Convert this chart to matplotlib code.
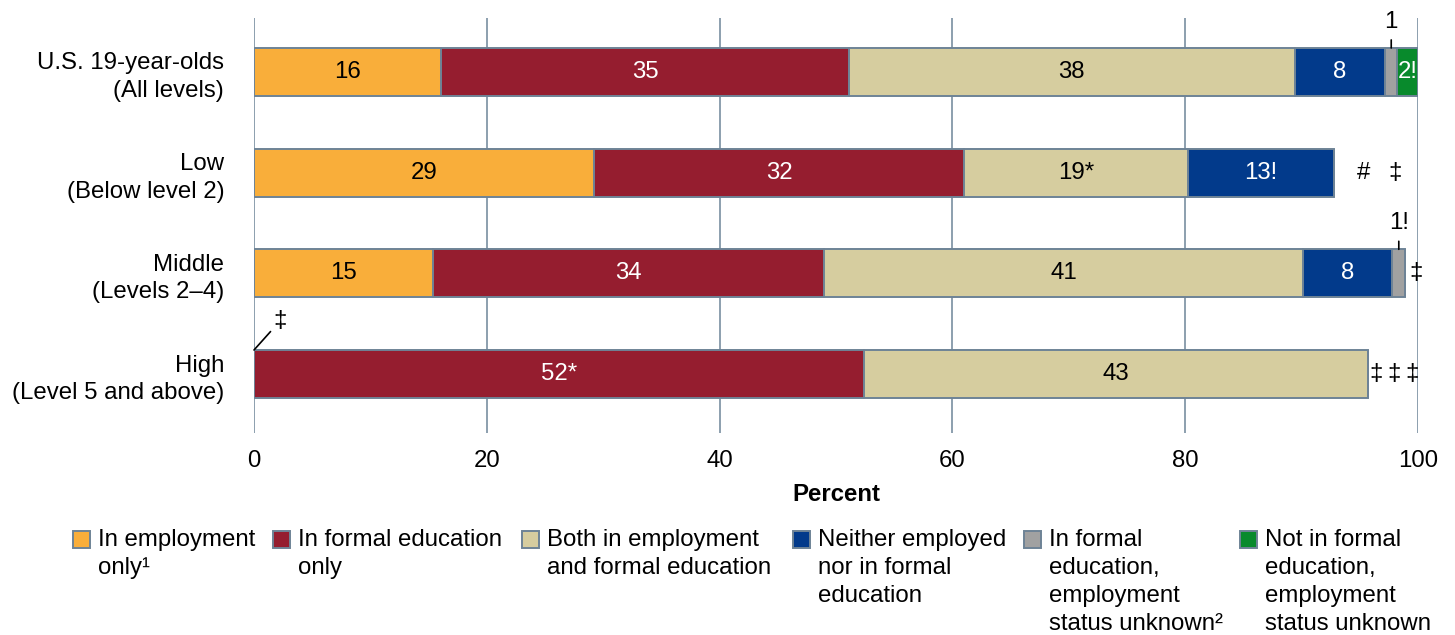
import matplotlib
matplotlib.use("Agg")
import matplotlib.pyplot as plt
from matplotlib.patches import Rectangle
import numpy as np

plt.rcParams['font.family'] = ['Liberation Sans', 'DejaVu Sans']

# ---------------- data ----------------
categories = ["U.S. 19-year-olds\n(All levels)", "Low\n(Below level 2)",
              "Middle\n(Levels 2\u20134)", "High\n(Level 5 and above)"]

series_names = ["In employment\nonly\u00b9", "In formal education\nonly",
                "Both in employment\nand formal education",
                "Neither employed\nnor in formal\neducation",
                "In formal\neducation,\nemployment\nstatus unknown\u00b2",
                "Not in formal\neducation,\nemployment\nstatus unknown"]

emp_only = [16.1, 29.2, 15.4, 0.0]
edu_only = [35.0, 31.8, 33.6, 52.4]
both = [38.3, 19.2, 41.1, 43.3]
neither = [7.8, 12.6, 7.7, 0.0]
edu_unknown = [1.0, 0.0, 1.1, 0.0]
notedu_unknown = [1.8, 0.0, 0.0, 0.0]

emp_labels = ["16", "29", "15", "\u2021"]
edu_labels = ["35", "32", "34", "52*"]
both_labels = ["38", "19*", "41", "43"]
neither_labels = ["8", "13!", "8", "\u2021"]
unk_labels = ["1", "#", "1!", "\u2021"]
notedu_labels = ["2!", "\u2021", "\u2021", "\u2021"]

xticks = [0, 20, 40, 60, 80, 100]

# ---------------- style ----------------
colors = ["#F9AE3A", "#951D2F", "#D6CD9F", "#023A8B", "#A1A1A1", "#088A2C"]
text_colors = ["black", "white", "black", "white", "black", "white"]
edge = "#6E8396"
grid_c = "#8497A8"
FS = 17.3

W, H = 1455, 635
fig = plt.figure(figsize=(W / 100, H / 100), dpi=100)
ax = fig.add_axes([254 / W, 1 - 433 / H, (1418 - 254) / W, (433 - 18) / H])

series = [emp_only, edu_only, both, neither, edu_unknown, notedu_unknown]
labels = [emp_labels, edu_labels, both_labels, neither_labels, unk_labels, notedu_labels]

y = np.arange(len(categories))
for xt in xticks:
    ax.axvline(xt, color=grid_c, lw=1.3, zorder=0)

left = np.zeros(len(categories))
lefts = []
for s, c in zip(series, colors):
    vals = np.array(s)
    ax.barh(y, vals, left=left, height=0.477, color=c, edgecolor=edge,
            linewidth=1.4, zorder=2)
    lefts.append(left.copy())
    left = left + vals
totals = left

bar_h = 0.477
# trailing-label pixel offsets per row (for zero-width segments)
trail_offsets = {1: [29, 61], 2: [11], 3: [8, 26, 44]}
for i in range(len(categories)):
    trail_idx = 0
    for k, (s, lab) in enumerate(zip(series, labels)):
        v = s[i]
        x0 = lefts[k][i]
        if v >= 1.5:
            ax.text(x0 + v / 2, y[i], lab[i], ha='center', va='center',
                    fontsize=FS, color=text_colors[k], zorder=3)
        elif v > 0:
            # small segment: label above with leader line
            ax.annotate(lab[i], xy=(x0 + v / 2, y[i] - bar_h / 2),
                        xytext=(0, 26), textcoords='offset pixels',
                        ha='center', va='center', fontsize=FS, color='black',
                        arrowprops=dict(arrowstyle='-', color='black', lw=1.2,
                                        shrinkA=-3, shrinkB=0))
        elif x0 == 0:
            ax.annotate(lab[i], xy=(0, y[i] - bar_h / 2),
                        xytext=(26, 29), textcoords='offset pixels',
                        ha='center', va='center', fontsize=FS, color='black',
                        arrowprops=dict(arrowstyle='-', color='black', lw=1.2,
                                        shrinkA=0, shrinkB=0))
        else:
            off = trail_offsets[i][trail_idx]
            trail_idx += 1
            ax.annotate(lab[i], xy=(totals[i], y[i]), xytext=(off, 0),
                        textcoords='offset pixels', ha='center', va='center',
                        fontsize=FS, color='black')

ax.set_xlim(0, 100)
ax.set_ylim(3 + 59 / 100.7, -54 / 100.7)
ax.set_yticks(y)
ax.set_yticklabels(categories, fontsize=FS)
for t in ax.get_yticklabels():
    t.set_linespacing(1.32)
ax.set_xticks(xticks)
ax.set_xticklabels([str(t) for t in xticks], fontsize=FS)
ax.tick_params(axis='y', length=0, pad=21.5)
ax.tick_params(axis='x', length=0, pad=12)
for sp in ax.spines.values():
    sp.set_visible(False)
ax.set_xlabel("Percent", fontsize=FS, fontweight='bold', labelpad=8)

# ---------------- legend (manual) ----------------
patch_x = [73, 273, 522, 793, 1024, 1240]
for px, name, c in zip(patch_x, series_names, colors):
    fig.add_artist(Rectangle((px / W, 1 - 548 / H), 17 / W, 17 / H,
                             transform=fig.transFigure, facecolor=c,
                             edgecolor=edge, lw=1.4))
    fig.text((px + 25) / W, 1 - 529 / H, name, ha='left', va='top',
             fontsize=FS, linespacing=1.35)

fig.savefig("out.png", dpi=100)
